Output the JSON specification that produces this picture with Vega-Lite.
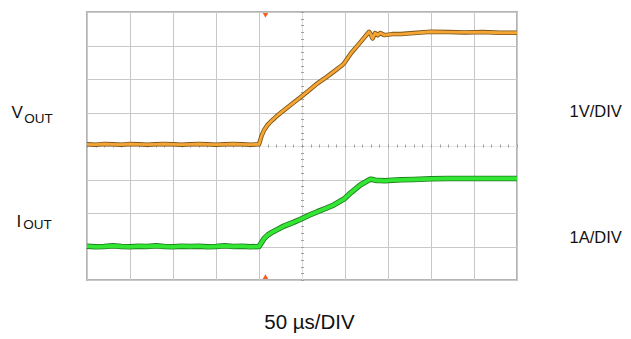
{
  "$schema": "https://vega.github.io/schema/vega-lite/v6.json",
  "width": 430,
  "height": 268,
  "autosize": {"type": "none"},
  "padding": {"left": 87, "top": 12, "right": 114, "bottom": 59},
  "background": "white",
  "config": {
    "view": {"stroke": "#b4b4b4", "strokeWidth": 2},
    "font": "Liberation Sans",
    "text": {"font": "Liberation Sans", "color": "#111111"}
  },
  "datasets": {
    "scope": [
      {"t": -200, "vout": 0.05, "iout": 0.01},
      {"t": -190, "vout": 0.04, "iout": -0.01},
      {"t": -180, "vout": 0.06, "iout": 0.0},
      {"t": -170, "vout": 0.05, "iout": 0.02},
      {"t": -160, "vout": 0.04, "iout": 0.0},
      {"t": -150, "vout": 0.06, "iout": -0.01},
      {"t": -140, "vout": 0.05, "iout": 0.01},
      {"t": -130, "vout": 0.04, "iout": 0.0},
      {"t": -120, "vout": 0.05, "iout": 0.02},
      {"t": -110, "vout": 0.06, "iout": 0.0},
      {"t": -100, "vout": 0.05, "iout": -0.01},
      {"t": -90, "vout": 0.04, "iout": 0.01},
      {"t": -80, "vout": 0.05, "iout": 0.0},
      {"t": -70, "vout": 0.06, "iout": 0.01},
      {"t": -60, "vout": 0.05, "iout": -0.01},
      {"t": -50, "vout": 0.04, "iout": 0.0},
      {"t": -40, "vout": 0.05, "iout": 0.02},
      {"t": -30, "vout": 0.06, "iout": 0.0},
      {"t": -20, "vout": 0.05, "iout": 0.01},
      {"t": -10, "vout": 0.04, "iout": -0.01},
      {"t": 0, "vout": 0.05, "iout": 0.0},
      {"t": 3, "vout": 0.3, "iout": 0.12},
      {"t": 6, "vout": 0.48, "iout": 0.24},
      {"t": 10, "vout": 0.63, "iout": 0.34},
      {"t": 15, "vout": 0.76, "iout": 0.42},
      {"t": 20, "vout": 0.88, "iout": 0.49},
      {"t": 29, "vout": 1.07, "iout": 0.61},
      {"t": 40, "vout": 1.29, "iout": 0.72},
      {"t": 49, "vout": 1.47, "iout": 0.82},
      {"t": 58, "vout": 1.66, "iout": 0.93},
      {"t": 68, "vout": 1.87, "iout": 1.04},
      {"t": 78, "vout": 2.05, "iout": 1.14},
      {"t": 87, "vout": 2.22, "iout": 1.24},
      {"t": 97, "vout": 2.42, "iout": 1.39},
      {"t": 99, "vout": 2.47, "iout": 1.42},
      {"t": 107, "vout": 2.77, "iout": 1.61},
      {"t": 118, "vout": 3.1, "iout": 1.84},
      {"t": 128, "vout": 3.41, "iout": 1.99},
      {"t": 130, "vout": 3.33, "iout": 2.01},
      {"t": 132, "vout": 3.21, "iout": 2.0},
      {"t": 135, "vout": 3.37, "iout": 1.98},
      {"t": 138, "vout": 3.31, "iout": 1.97},
      {"t": 141, "vout": 3.37, "iout": 1.97},
      {"t": 146, "vout": 3.31, "iout": 1.96},
      {"t": 155, "vout": 3.34, "iout": 1.98},
      {"t": 165, "vout": 3.34, "iout": 1.99},
      {"t": 180, "vout": 3.37, "iout": 2.0},
      {"t": 200, "vout": 3.41, "iout": 2.02},
      {"t": 220, "vout": 3.4, "iout": 2.03},
      {"t": 240, "vout": 3.39, "iout": 2.03},
      {"t": 260, "vout": 3.4, "iout": 2.03},
      {"t": 280, "vout": 3.38, "iout": 2.03},
      {"t": 300, "vout": 3.38, "iout": 2.03}
    ]
  },
  "data": {"name": "scope"},
  "resolve": {
    "scale": {"x": "independent", "y": "independent"},
    "axis": {"x": "independent", "y": "independent"}
  },
  "layer": [
    {
      "encoding": {
        "x": {
          "field": "t",
          "type": "quantitative",
          "scale": {"domain": [-200, 300], "nice": false, "zero": false},
          "axis": {
            "orient": "bottom",
            "values": [-200, -150, -100, -50, 0, 50, 100, 150, 200, 250, 300],
            "grid": true,
            "gridColor": {"condition": {"test": "datum.value === 50", "value": "#dedede"}, "value": "#c8c8c8"},
            "ticks": false,
            "labels": false,
            "domain": false,
            "title": "50 µs/DIV",
            "titleFont": "Liberation Sans",
            "titleFontSize": 20.5,
            "titleFontWeight": "normal",
            "titleColor": "#111111",
            "titlePadding": 32,
            "titleX": 222
          }
        },
        "y": {
          "field": "vout",
          "type": "quantitative",
          "scale": {"domain": [-4, 4], "nice": false, "zero": false},
          "axis": {
            "values": [-4, -3, -2, -1, 0, 1, 2, 3, 4],
            "grid": true,
            "gridColor": {"condition": {"test": "datum.value === 0", "value": "#e6e6e6"}, "value": "#c8c8c8"},
            "ticks": false,
            "labels": false,
            "domain": false,
            "title": null
          }
        }
      },
      "layer": [
        {"mark": {"type": "line", "stroke": "#7a5418", "strokeWidth": 4.5, "strokeJoin": "round"}},
        {"mark": {"type": "line", "stroke": "#f4a534", "strokeWidth": 2.8, "strokeJoin": "round"}},
        {
          "data": {"values": [{"t": 7.5, "vout": 3.9}]},
          "mark": {"type": "point", "shape": "triangle-down", "filled": true, "color": "#ff5a1e", "size": 30, "opacity": 1}
        },
        {
          "data": {"values": [{"t": 7.5, "vout": -3.9}]},
          "mark": {"type": "point", "shape": "triangle-up", "filled": true, "color": "#ff5a1e", "size": 30, "opacity": 1}
        },
        {
          "data": {"values": [{"t": -287.7, "vout": 0.836}]},
          "mark": {"type": "text", "align": "left", "baseline": "alphabetic", "fontSize": 17, "text": "V"}
        },
        {
          "data": {"values": [{"t": -273, "vout": 0.69}]},
          "mark": {"type": "text", "align": "left", "baseline": "alphabetic", "fontSize": 13.5, "text": "OUT"}
        },
        {
          "data": {"values": [{"t": 361, "vout": 0.875}]},
          "mark": {"type": "text", "align": "left", "baseline": "alphabetic", "fontSize": 16.5, "text": "1V/DIV"}
        }
      ]
    },
    {
      "encoding": {
        "x": {
          "field": "t",
          "type": "quantitative",
          "scale": {"domain": [-200, 300], "nice": false, "zero": false},
          "axis": {
            "orient": "top",
            "offset": -135,
            "tickCount": 50,
            "ticks": true,
            "tickSize": 3,
            "tickColor": "#a0a0a0",
            "labels": false,
            "domain": false,
            "grid": false,
            "title": null
          }
        },
        "y": {
          "field": "iout",
          "type": "quantitative",
          "scale": {"domain": [-1, 7], "nice": false, "zero": false},
          "axis": {
            "orient": "right",
            "offset": -216.5,
            "tickCount": 40,
            "ticks": true,
            "tickSize": 3,
            "tickColor": "#a0a0a0",
            "labels": false,
            "domain": false,
            "grid": false,
            "title": null
          }
        }
      },
      "layer": [
        {"mark": {"type": "line", "stroke": "#217a21", "strokeWidth": 5.5, "strokeJoin": "round"}},
        {"mark": {"type": "line", "stroke": "#33e633", "strokeWidth": 3.8, "strokeJoin": "round"}},
        {
          "data": {"values": [{"t": -282, "iout": 0.597}]},
          "mark": {"type": "text", "align": "left", "baseline": "alphabetic", "fontSize": 17, "text": "I"}
        },
        {
          "data": {"values": [{"t": -274, "iout": 0.52}]},
          "mark": {"type": "text", "align": "left", "baseline": "alphabetic", "fontSize": 13.5, "text": "OUT"}
        },
        {
          "data": {"values": [{"t": 361, "iout": 0.096}]},
          "mark": {"type": "text", "align": "left", "baseline": "alphabetic", "fontSize": 16.5, "text": "1A/DIV"}
        }
      ]
    }
  ]
}
